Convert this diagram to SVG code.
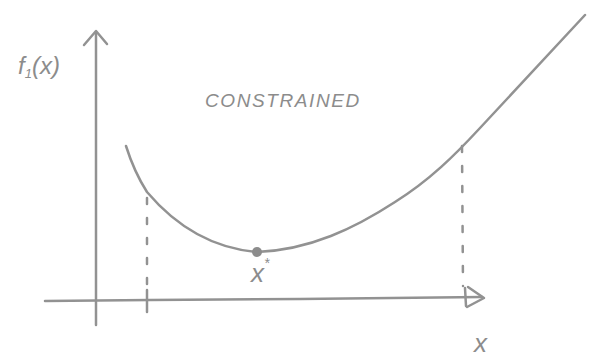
<svg xmlns="http://www.w3.org/2000/svg" width="596" height="363" viewBox="0 0 596 363">
<style>
.ln{fill:none;stroke:#929292;stroke-width:2.5;stroke-linecap:round;stroke-linejoin:round}
.dash{fill:none;stroke:#929292;stroke-width:2.5;stroke-dasharray:6 14;stroke-linecap:round}
.t{fill:#8c8c8c;font-family:"Liberation Sans",sans-serif;font-style:italic}
</style>
<rect width="596" height="363" fill="#ffffff"/>
<g id="axes">
<path class="ln" d="M96,325 L96,32"/>
<path class="ln" d="M84,45 L96,31 L107,44"/>
<path class="ln" d="M45,301 L150,300 L300,299 L482,297"/>
<path class="ln" d="M468,287 L484,298 L467,307"/>
<path class="ln" d="M147,290 L147,312"/>
<path class="ln" d="M465,288 L466,306"/>
</g>
<g id="curve">
<path class="ln" d="M126,146 C132,165 138,178 147,192 C175,225 210,248 257,252 C310,250 355,228 395,202 C430,180 455,155 480,128 C520,85 560,42 585,15"/>
<circle cx="257" cy="252" r="5" fill="#8c8c8c"/>
</g>
<g id="guides">
<path class="dash" d="M147,198 L147,288"/>
<path class="dash" d="M462,146 L463,286"/>
</g>
<g id="labels">
<text class="t" x="18" y="74" font-size="24">f<tspan font-size="13" dy="4">1</tspan><tspan dy="-4">(x)</tspan></text>
<text class="t" x="205" y="107" font-size="19" letter-spacing="1.6">CONSTRAINED</text>
<text class="t" x="251" y="282" font-size="26">x<tspan font-size="14" dy="-14">*</tspan></text>
<text class="t" x="474" y="352" font-size="26">x</text>
</g>
</svg>
